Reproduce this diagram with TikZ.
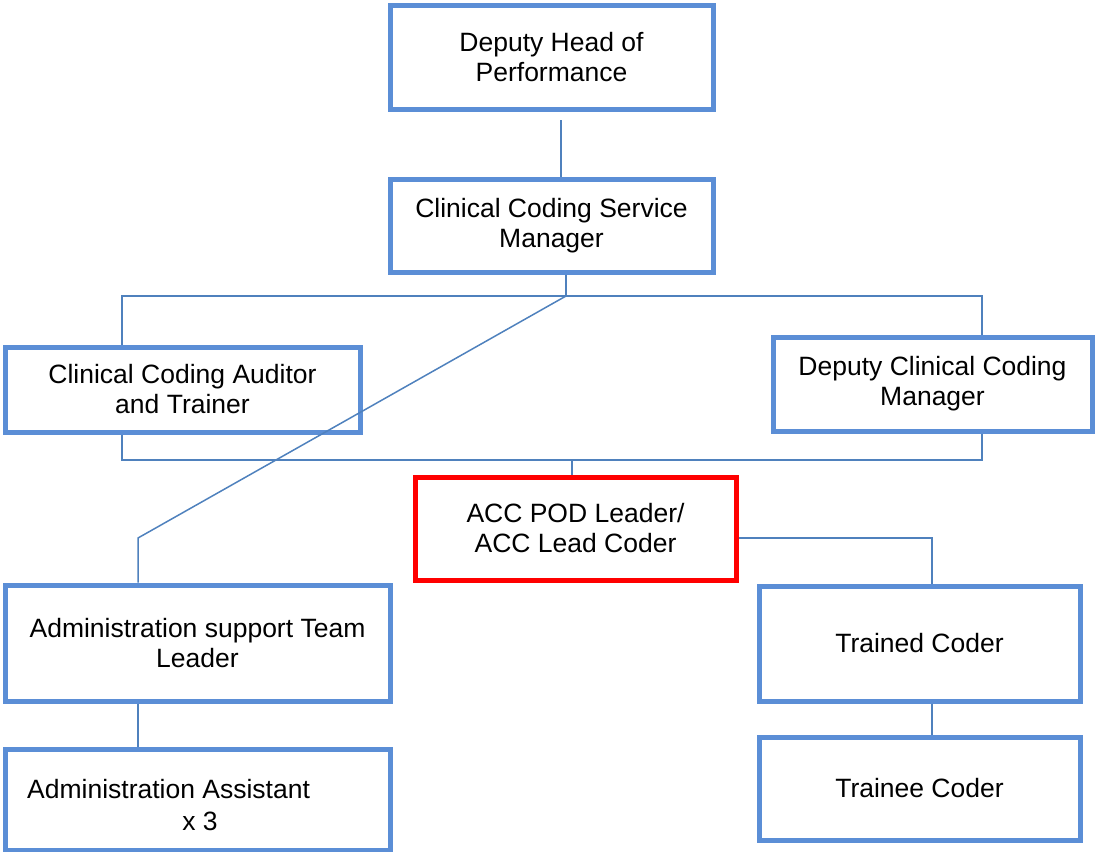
\documentclass[tikz,border=0pt]{standalone}
\usepackage{fontspec}
\setmainfont{Liberation Sans}
\definecolor{boxblue}{RGB}{91,142,214}
\definecolor{lineblue}{RGB}{79,129,189}
\definecolor{accred}{RGB}{255,0,0}
\begin{document}
\begin{tikzpicture}[x=1pt,y=-1pt,
  box/.style={draw=boxblue,line width=5pt,rectangle,inner sep=0pt,align=center,
    font=\fontsize{26.5}{30}\selectfont,text=black},
  redbox/.style={box,draw=accred},
  txt/.style={inner sep=0pt,font=\fontsize{26.5}{30}\selectfont,text=black},
  conn/.style={draw=lineblue,line width=1.5pt}]
\useasboundingbox (0,0) rectangle (1096,852);
\node[box,minimum width=323pt,minimum height=104pt] (b1) at (551.5,57) {Deputy Head of\\Performance};
\node[box,minimum width=323pt,minimum height=93pt] (b2) at (551.5,225.5) {Clinical Coding Service\\Manager};
\node[box,minimum width=355pt,minimum height=85pt] (aud) at (182.5,389.5) {Clinical Coding Auditor\\and Trainer};
\node[box,minimum width=319pt,minimum height=94pt] (dep) at (932.5,384) {Deputy Clinical Coding\\Manager};
\node[redbox,minimum width=321pt,minimum height=103pt] (acc) at (575.5,528.5) {ACC POD Leader/\\ACC Lead Coder};
\node[box,minimum width=385pt,minimum height=116pt] (adm) at (197.5,643) {Administration support Team\\Leader};
\node[box,minimum width=385pt,minimum height=101pt] (ass) at (197.5,799.5) {};
\node[txt,anchor=west] (asst1) at (27,789) {Administration Assistant};
\node[txt] (asst2) at (200,821) {x 3};
\node[box,minimum width=321pt,minimum height=115pt] (trd) at (919.5,643.5) {Trained Coder};
\node[box,minimum width=321pt,minimum height=103pt] (tre) at (919.5,788.5) {Trainee Coder};
% connectors
\coordinate (c1) at (561,120);
\draw[conn] (c1) -- (c1 |- b2.north);
\coordinate (bus1) at (566,296);
\coordinate (busL) at (122,296);
\coordinate (busR) at (982,296);
\draw[conn] (bus1 |- b2.south) -- (bus1);
\draw[conn] (busL |- aud.north) -- (busL) -- (busR) -- (busR |- dep.north);
\coordinate (diag) at (138,538);
\draw[conn] (bus1) -- (diag) -- (diag |- adm.north);
\coordinate (bus2L) at (122,460);
\coordinate (bus2R) at (982,460);
\coordinate (bus2) at (572,460);
\draw[conn] (bus2L |- aud.south) -- (bus2L) -- (bus2R) -- (bus2R |- dep.south);
\draw[conn] (bus2) -- (bus2 |- acc.north);
\coordinate (cr) at (932,538);
\draw[conn] (acc.east |- cr) -- (cr) -- (cr |- trd.north);
\draw[conn] (adm.south -| diag) -- (ass.north -| diag);
\draw[conn] (trd.south -| cr) -- (tre.north -| cr);
\end{tikzpicture}
\end{document}
